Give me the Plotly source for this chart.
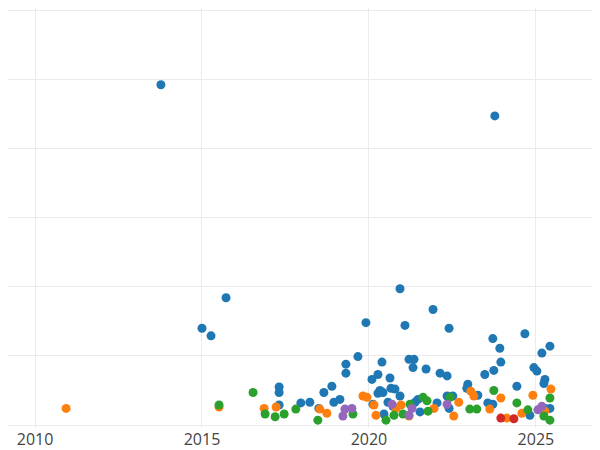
import plotly.graph_objects as go

# decimal year, value
blue_x = [2013.77, 2023.77, 2015.72, 2015.0, 2015.27, 2020.93, 2019.91, 2021.92, 2021.08, 2022.40,
          2024.67, 2023.71, 2025.42, 2023.92, 2025.18, 2019.67, 2021.2, 2021.35, 2019.31, 2020.39,
          2023.95, 2021.32, 2021.71, 2024.94, 2025.03, 2019.31, 2020.27, 2022.13, 2022.34, 2023.47,
          2023.74, 2025.27, 2020.09, 2020.63, 2022.96, 2025.24, 2017.31, 2018.89, 2022.93, 2024.43,
          2017.31, 2018.65, 2020.66, 2020.78, 2020.33, 2020.42, 2020.27, 2020.93, 2019.13, 2021.47,
          2022.34, 2022.51, 2023.26, 2017.96, 2018.23, 2018.95, 2020.57, 2020.72, 2021.38, 2022.04,
          2023.56, 2017.31, 2018.5, 2020.12, 2022.40, 2023.71, 2025.42, 2020.45, 2021.53, 2024.82,
          2025.27]
blue_y = [4.92, 4.47, 1.84, 1.40, 1.29, 1.97, 1.48, 1.67, 1.44, 1.40,
          1.32, 1.25, 1.14, 1.11, 1.04, 0.99, 0.95, 0.95, 0.88, 0.91,
          0.91, 0.83, 0.81, 0.83, 0.78, 0.75, 0.73, 0.75, 0.71, 0.73,
          0.79, 0.66, 0.66, 0.68, 0.59, 0.60, 0.55, 0.56, 0.53, 0.56,
          0.47, 0.47, 0.53, 0.52, 0.50, 0.47, 0.46, 0.42, 0.37, 0.37,
          0.42, 0.42, 0.43, 0.32, 0.33, 0.33, 0.33, 0.27, 0.33, 0.32,
          0.32, 0.29, 0.24, 0.30, 0.24, 0.30, 0.24, 0.16, 0.19, 0.14,
          0.24]

orange_x = [2010.93, 2015.51, 2016.86, 2017.22, 2018.53, 2018.74, 2019.82, 2019.94, 2020.15, 2020.21,
            2020.81, 2020.96, 2021.2, 2021.95, 2022.54, 2022.69, 2023.05, 2023.14, 2023.62, 2023.95,
            2024.13, 2024.58, 2024.91, 2025.45, 2025.27]
orange_y = [0.24, 0.26, 0.24, 0.26, 0.23, 0.17, 0.42, 0.40, 0.29, 0.14,
            0.24, 0.29, 0.13, 0.24, 0.13, 0.33, 0.49, 0.42, 0.23, 0.39,
            0.10, 0.17, 0.43, 0.52, 0.20]

green_x = [2016.53, 2015.51, 2016.89, 2017.19, 2017.46, 2017.81, 2018.47, 2019.52, 2020.51, 2020.75,
           2021.02, 2021.23, 2021.62, 2021.74, 2021.77, 2022.43, 2023.02, 2023.23, 2023.74, 2024.43,
           2024.76, 2025.24, 2025.42, 2025.42]
green_y = [0.47, 0.29, 0.16, 0.12, 0.16, 0.23, 0.07, 0.16, 0.07, 0.14,
           0.16, 0.30, 0.40, 0.35, 0.20, 0.40, 0.23, 0.23, 0.50, 0.32,
           0.22, 0.13, 0.39, 0.07]

red_x = [2023.95, 2024.34]
red_y = [0.10, 0.09]

purple_x = [2019.22, 2019.28, 2019.49, 2020.69, 2021.2, 2021.29, 2022.34, 2025.06, 2025.18]
purple_y = [0.13, 0.23, 0.24, 0.30, 0.14, 0.24, 0.30, 0.22, 0.27]

series = [
    (blue_x, blue_y, "#1f77b4"),
    (orange_x, orange_y, "#ff7f0e"),
    (green_x, green_y, "#2ca02c"),
    (red_x, red_y, "#d62728"),
    (purple_x, purple_y, "#9467bd"),
]

fig = go.Figure()
for xs, ys, c in series:
    fig.add_trace(go.Scatter(x=xs, y=ys, mode="markers",
                             marker={"size": 9, "color": c}))

# page body has an 8px margin, so the figure is sized to fit the window
fig.update_layout(
    width=592, height=442,
    margin={"l": 0, "r": 0, "t": 0, "b": 20},
    plot_bgcolor="white", paper_bgcolor="white",
    showlegend=False,
    xaxis={"range": [2009.19, 2026.92], "tickvals": [2010, 2015, 2020, 2025],
           "gridcolor": "#ebebeb", "zeroline": False, "showline": False,
           "tickfont": {"size": 16, "color": "#444", "family": "Open Sans"}},
    yaxis={"range": [-0.043, 6.03], "dtick": 1, "gridcolor": "#ebebeb",
           "zeroline": False, "showticklabels": False},
)
fig.write_html("out.html")
